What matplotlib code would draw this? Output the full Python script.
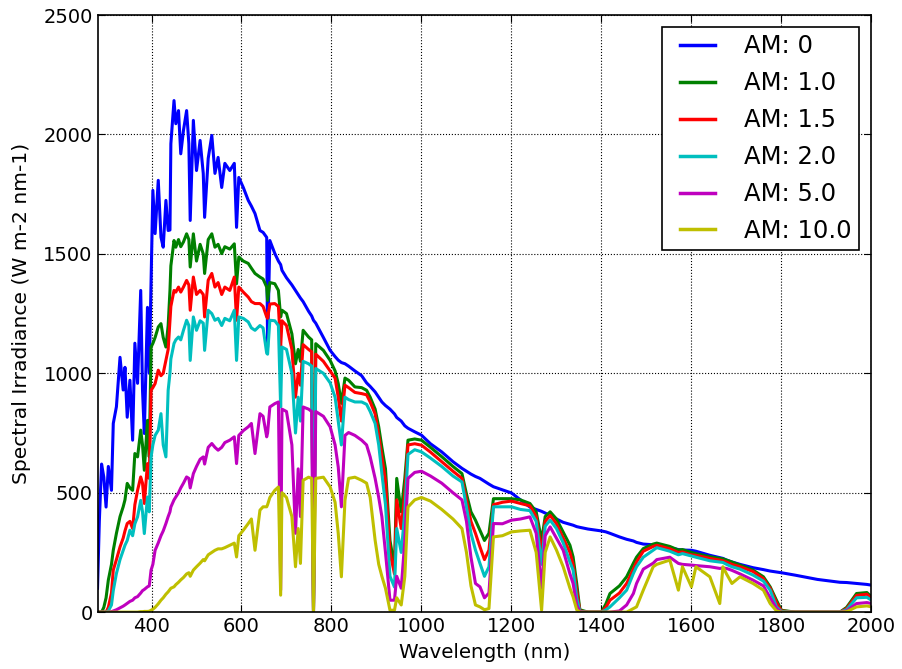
import matplotlib
matplotlib.use('Agg')
import matplotlib.pyplot as plt
from matplotlib.legend_handler import HandlerLine2D

# wavelength grid (nm) shared by all air-mass curves
wavelength = [280, 284, 289, 294, 299, 304, 311, 315, 322, 330, 337, 341, 346, 352, 358, 363, 369, 376, 380, 384,
              391, 395, 399, 403, 408, 415, 421, 426, 432, 437, 441, 443, 450, 454, 460, 465, 471, 478, 483, 486,
              493, 500, 508, 515, 518, 526, 534, 541, 548, 556, 563, 574, 584, 589, 594, 604, 615, 622, 630, 641,
              648, 656, 658, 663, 674, 682, 687, 690, 700, 712, 720, 726, 731, 737, 749, 756, 760, 765, 782, 797,
              808, 815, 822, 830, 838, 852, 867, 878, 886, 897, 905, 912, 920, 930, 940, 945, 955, 963, 970, 985,
              1000, 1020, 1045, 1070, 1090, 1100, 1110, 1120, 1130, 1140, 1150, 1160, 1180, 1200, 1220, 1241, 1255, 1267, 1275, 1286,
              1300, 1315, 1330, 1337, 1345, 1352, 1370, 1400, 1410, 1419, 1440, 1456, 1471, 1478, 1493, 1515, 1523, 1552, 1571, 1580,
              1600, 1610, 1641, 1663, 1670, 1678, 1690, 1708, 1737, 1760, 1775, 1789, 1800, 1830, 1880, 1930, 1945, 1967, 1990, 2000]

am0 = [100, 380, 620, 565, 440, 610, 510, 790, 860, 1067, 930, 1025, 816, 971, 720, 1126, 958, 1347, 929, 748,
       1276, 1000, 1376, 1766, 1585, 1808, 1570, 1528, 1724, 1598, 1600, 1961, 2142, 2045, 2100, 1919, 2017, 2100, 1961, 1640,
       2059, 1849, 1975, 1837, 1653, 1900, 1996, 1837, 1904, 1778, 1879, 1849, 1879, 1611, 1820, 1778, 1724, 1700, 1669, 1598,
       1590, 1569, 1109, 1556, 1502, 1470, 1455, 1431, 1400, 1370, 1347, 1330, 1315, 1300, 1260, 1240, 1222, 1210, 1150, 1096,
       1070, 1055, 1045, 1040, 1030, 1010, 990, 960, 945, 922, 900, 880, 865, 850, 830, 815, 800, 780, 770, 755,
       741, 705, 671, 630, 602, 590, 578, 568, 560, 548, 536, 525, 512, 499, 470, 440, 430, 422, 415, 405,
       390, 376, 368, 364, 358, 355, 348, 340, 336, 330, 315, 305, 298, 292, 285, 282, 281, 270, 262, 260,
       259, 255, 238, 228, 225, 218, 210, 200, 186, 178, 172, 168, 165, 155, 137, 125, 124, 120, 116, 113]

am1 = [0, 0, 0, 20, 60, 134, 200, 259, 330, 400, 441, 470, 539, 520, 510, 664, 650, 762, 700, 594,
       803, 650, 1110, 1125, 1150, 1194, 1208, 1150, 1110, 1200, 1347, 1450, 1556, 1528, 1560, 1530, 1550, 1584, 1560, 1445,
       1584, 1470, 1540, 1500, 1418, 1560, 1584, 1528, 1540, 1501, 1530, 1520, 1542, 1375, 1487, 1470, 1460, 1440, 1418, 1403,
       1395, 1361, 1305, 1380, 1375, 1347, 1236, 1264, 1250, 1165, 1040, 1100, 1050, 1180, 1152, 1140, 8, 1124, 1096, 1054,
       1010, 957, 874, 980, 971, 943, 940, 929, 900, 850, 776, 690, 600, 300, 190, 560, 420, 560, 720, 725,
       720, 690, 651, 610, 580, 495, 420, 385, 343, 300, 330, 475, 475, 475, 470, 455, 420, 300, 400, 420,
       390, 335, 280, 231, 120, 10, 0, 0, 35, 78, 110, 148, 205, 230, 266, 285, 289, 275, 260, 262,
       250, 245, 232, 225, 223, 218, 210, 197, 176, 148, 106, 50, 8, 0, 0, 0, 20, 78, 82, 64]

am15 = [0, 0, 0, 0, 0, 20, 80, 176, 220, 273, 310, 340, 371, 380, 350, 450, 510, 566, 540, 455,
        622, 560, 929, 940, 957, 1013, 990, 1000, 1054, 1100, 1222, 1280, 1347, 1340, 1361, 1340, 1361, 1389, 1370, 1264,
        1403, 1330, 1347, 1330, 1236, 1390, 1418, 1361, 1380, 1330, 1361, 1347, 1403, 1222, 1361, 1340, 1319, 1300, 1292, 1292,
        1280, 1236, 1230, 1290, 1292, 1280, 1110, 1220, 1200, 1100, 900, 1000, 950, 1120, 1100, 1090, 5, 1080, 1050, 1010,
        980, 900, 800, 950, 940, 920, 915, 910, 880, 830, 740, 650, 550, 250, 160, 470, 350, 500, 700, 705,
        699, 670, 630, 590, 560, 470, 380, 330, 273, 220, 260, 450, 460, 465, 455, 445, 400, 250, 380, 405,
        370, 310, 250, 200, 90, 5, 0, 0, 20, 50, 80, 120, 180, 210, 255, 275, 280, 265, 250, 252,
        240, 238, 225, 218, 215, 210, 200, 190, 170, 140, 100, 40, 5, 0, 0, 0, 15, 70, 75, 58]

am2 = [0, 0, 0, 0, 0, 5, 30, 90, 162, 220, 259, 280, 300, 343, 320, 370, 399, 468, 420, 329,
       482, 420, 650, 700, 740, 762, 831, 700, 650, 929, 1000, 1060, 1125, 1140, 1152, 1140, 1180, 1222, 1200, 1054,
       1236, 1180, 1220, 1210, 1096, 1264, 1250, 1222, 1230, 1200, 1230, 1220, 1264, 1054, 1236, 1230, 1215, 1190, 1180, 1200,
       1190, 1084, 1080, 1222, 1220, 1200, 859, 1110, 1100, 1000, 750, 900, 800, 1050, 1040, 1030, 3, 1020, 1000, 960,
       900, 800, 700, 900, 890, 880, 880, 870, 840, 790, 700, 580, 450, 150, 105, 350, 250, 420, 660, 680,
       671, 645, 610, 570, 545, 440, 330, 260, 204, 150, 190, 441, 441, 441, 430, 425, 380, 200, 360, 385,
       350, 290, 210, 176, 60, 3, 0, 0, 10, 22, 60, 92, 162, 190, 230, 259, 270, 255, 240, 245,
       235, 230, 215, 210, 208, 200, 190, 180, 155, 130, 92, 22, 3, 0, 0, 0, 10, 60, 62, 50]

am5 = [0, 0, 0, 0, 0, 0, 2, 5, 10, 18, 25, 30, 37, 45, 50, 60, 65, 80, 90, 95,
       106, 110, 176, 200, 259, 290, 320, 340, 371, 400, 420, 440, 470, 482, 500, 520, 540, 566, 560, 520,
       580, 610, 640, 650, 620, 690, 706, 690, 678, 690, 710, 720, 734, 622, 740, 760, 776, 790, 664, 831,
       820, 734, 750, 859, 873, 880, 92, 850, 840, 700, 330, 600, 400, 859, 850, 840, 0, 840, 820, 776,
       700, 608, 441, 740, 752, 740, 720, 700, 650, 560, 480, 400, 250, 50, 50, 150, 100, 300, 560, 585,
       590, 570, 540, 500, 470, 380, 230, 120, 106, 60, 80, 371, 370, 385, 390, 399, 330, 100, 320, 357,
       310, 259, 160, 120, 30, 2, 0, 0, 0, 0, 5, 30, 78, 120, 180, 205, 220, 230, 204, 200,
       197, 195, 190, 183, 185, 183, 175, 160, 134, 110, 60, 15, 0, 0, 0, 0, 5, 36, 40, 36]

am10 = [0, 0, 0, 0, 0, 0, 0, 0, 0, 0, 0, 0, 0, 0, 0, 0, 0, 2, 2, 3,
        3, 4, 8, 12, 20, 35, 50, 60, 75, 85, 95, 100, 106, 115, 125, 135, 145, 160, 165, 150,
        176, 190, 205, 220, 215, 240, 250, 259, 265, 265, 270, 280, 289, 231, 320, 343, 371, 390, 259, 427,
        441, 441, 450, 480, 510, 524, 71, 500, 480, 400, 190, 350, 204, 552, 565, 560, 0, 560, 565, 524,
        460, 330, 148, 469, 560, 565, 552, 540, 480, 301, 200, 150, 100, 8, 8, 60, 30, 150, 440, 470,
        480, 465, 430, 390, 350, 250, 110, 30, 22, 10, 15, 315, 320, 336, 340, 343, 250, 8, 250, 315,
        260, 190, 100, 64, 10, 0, 0, 0, 0, 0, 0, 0, 15, 22, 92, 190, 200, 218, 92, 190,
        106, 190, 148, 36, 190, 160, 120, 148, 120, 92, 36, 5, 0, 0, 0, 0, 2, 22, 26, 22]

series = [am0, am1, am15, am2, am5, am10]
labels = ['AM: 0', 'AM: 1.0', 'AM: 1.5', 'AM: 2.0', 'AM: 5.0', 'AM: 10.0']
colors = ['#0000ff', '#008000', '#ff0000', '#00bfbf', '#bf00bf', '#bfbf00']

plt.rcParams['font.family'] = 'DejaVu Sans'
fig = plt.figure(figsize=(9.03, 6.69), dpi=100)
ax = fig.add_axes([0.108, 0.085, 0.857, 0.8925])

for values, label, color in zip(series, labels, colors):
    ax.plot(wavelength, values, color=color, lw=2.2, label=label)

ax.set_xlim(280, 2000)
ax.set_ylim(0, 2500)
ax.set_xticks(range(400, 2001, 200))
ax.set_yticks(range(0, 2501, 500))
ax.grid(True, color='k', linestyle=':', linewidth=0.8)
ax.tick_params(direction='in', top=True, right=True, labelsize=14, length=5)
for spine in ax.spines.values():
    spine.set_linewidth(1.2)
ax.set_xlabel('Wavelength (nm)', fontsize=14.3, labelpad=5)
ax.set_ylabel('Spectral Irradiance (W m-2 nm-1)', fontsize=14.6, labelpad=9)

leg = ax.legend(loc='upper right', fontsize=17.5, fancybox=False, framealpha=1,
                borderpad=0.3, labelspacing=0.53, handlelength=1.9, handletextpad=1.2,
                borderaxespad=0.5, handler_map={plt.Line2D: HandlerLine2D(xpad=0.45)})
leg.get_frame().set_edgecolor('k')
leg.get_frame().set_linewidth(1.2)
for line in leg.get_lines():
    line.set_linewidth(2.5)

fig.savefig('out.png', dpi=100)
